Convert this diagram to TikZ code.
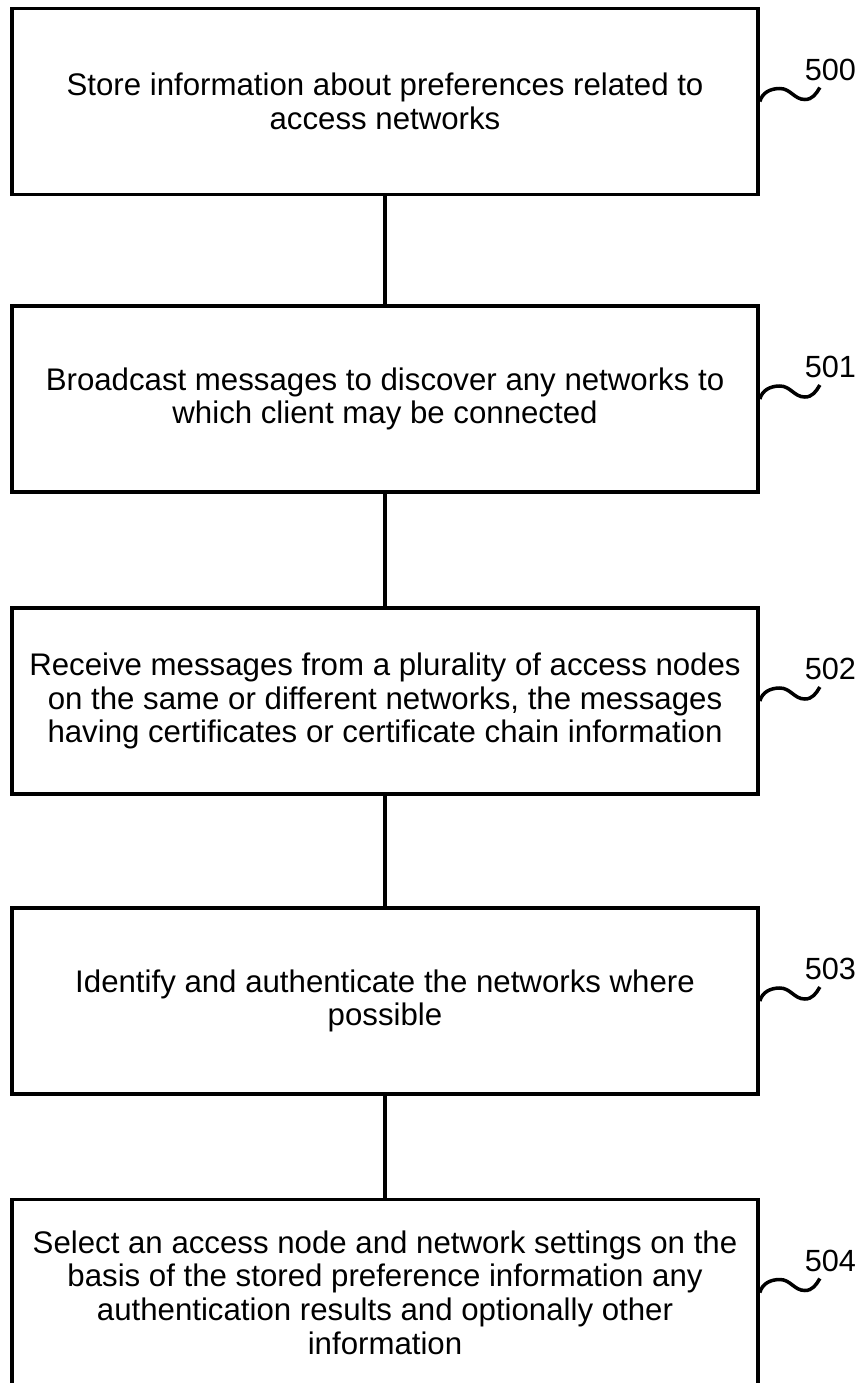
\documentclass[tikz,border=0pt]{standalone}
\usepackage{fontspec}
\setmainfont{Liberation Sans}
\usetikzlibrary{positioning}

\begin{document}
\begin{tikzpicture}[x=0.025cm, y=0.025cm, line width=2.5pt,
			stepbox/.style={draw, rectangle, minimum width=18.65cm, minimum height=4.65cm,
				align=center, inner sep=0pt, font=\fontsize{22.2}{23.9}\selectfont},
			reflabel/.style={anchor=base west, inner sep=0pt, font=\fontsize{21.8}{26}\selectfont}]
			
			\useasboundingbox (0,0) rectangle (861,-1383);
			
			% Passi del diagramma, uno sotto l'altro
			\node[stepbox] (b0) at (385,-101.5) {Store information about preferences related to\\access networks};
			\node[stepbox] (b1) at (385,-399) {Broadcast messages to discover any networks to\\which client may be connected};
			\node[stepbox] (b2) at (385,-701) {Receive messages from a plurality of access nodes\\on the same or different networks, the messages\\having certificates or certificate chain information};
			\node[stepbox] (b3) at (385,-1001) {Identify and authenticate the networks where\\possible};
			\node[stepbox] (b4) at (385,-1292.5) {Select an access node and network settings on the\\basis of the stored preference information any\\authentication results and optionally other\\information};
			
			% Collegamenti verticali
			\draw (b0) -- (b1);
			\draw (b1) -- (b2);
			\draw (b2) -- (b3);
			\draw (b3) -- (b4);
			
			% Numeri di riferimento con l'onda
			\foreach \i/\y/\t in {0/101.5/500, 1/399/501, 2/701/502, 3/1001/503, 4/1292.5/504} {
				\draw (b\i.east) to[out=75,in=180] ++(20,13) to[out=0,in=180] ++(25,-11)
					to[out=0,in=-120] ++(15,12) coordinate (w\i);
				\node[reflabel] (l\i) at (803,{21.5-\y}) {\t};
			}
		\end{tikzpicture}
\end{document}
